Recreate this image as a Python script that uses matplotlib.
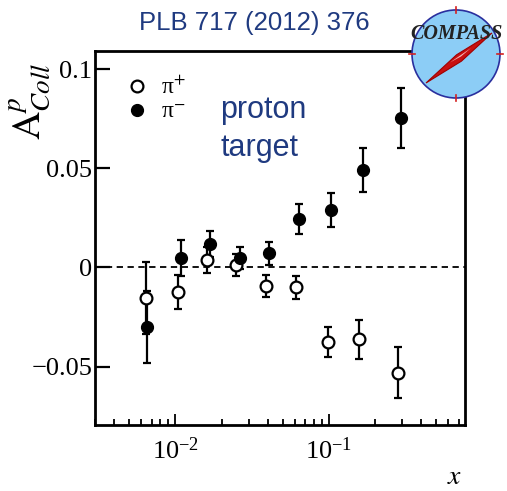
import numpy as np
import matplotlib
matplotlib.use('Agg')
import matplotlib.pyplot as plt
from matplotlib.patches import Circle, Polygon

plt.rcParams['font.family'] = 'Liberation Serif'
plt.rcParams['mathtext.fontset'] = 'stix'

# pi+ (open circles)
x_pip = [0.00644, 0.0104, 0.0160, 0.0248, 0.0390, 0.0611, 0.0982, 0.158, 0.281]
a_pip = [-0.0154, -0.0125, 0.0038, 0.0013, -0.0093, -0.0100, -0.0374, -0.0362, -0.0531]
e_pip = [0.018, 0.0086, 0.0064, 0.0054, 0.0056, 0.0059, 0.0076, 0.0098, 0.0129]

# pi- (filled circles)
x_pim = [0.00657, 0.0109, 0.0169, 0.0265, 0.0410, 0.0643, 0.1033, 0.168, 0.295]
a_pim = [-0.0300, 0.0048, 0.0119, 0.0049, 0.0072, 0.0245, 0.0290, 0.0492, 0.0754]
e_pim = [0.018, 0.0091, 0.0067, 0.0056, 0.0059, 0.0074, 0.0084, 0.0110, 0.0151]

yticks = [-0.05, 0, 0.05, 0.1]
ytick_labels = ['\u22120.05', '0', '0.05', '0.1']

blue = '#1f3a80'

fig = plt.figure(figsize=(5.07, 4.91), dpi=100)
ax = fig.add_axes([0.1874, 0.1344, 0.7298, 0.7623])

ax.axhline(0, color='black', lw=1.3, ls=(0, (3.5, 2.5)), zorder=1)

ax.errorbar(x_pip, a_pip, yerr=e_pip, fmt='none', ecolor='black', elinewidth=1.6,
            capsize=3, capthick=1.6, zorder=2)
ax.errorbar(x_pim, a_pim, yerr=e_pim, fmt='none', ecolor='black', elinewidth=1.6,
            capsize=3, capthick=1.6, zorder=2)
ax.plot(x_pip, a_pip, 'o', ms=8.5, mfc='white', mec='black', mew=1.6, zorder=3,
        label='\u03c0$^{+}$')
ax.plot(x_pim, a_pim, 'o', ms=8.5, mfc='black', mec='black', mew=1.0, zorder=4,
        label='\u03c0$^{-}$')

ax.set_xscale('log')
ax.set_xlim(0.003, 0.77)
ax.set_ylim(-0.0795, 0.1094)
ax.set_yticks(yticks)
ax.set_yticklabels(ytick_labels)

for s in ax.spines.values():
    s.set_linewidth(2)
ax.tick_params(axis='y', which='major', direction='in', length=10.5, width=1.6,
               labelsize=19, pad=2, right=False)
ax.tick_params(axis='x', which='major', direction='in', length=8, width=1.3,
               labelsize=19, pad=9, top=False)
ax.tick_params(axis='x', which='minor', direction='in', length=4, width=1.3, top=False)
ax.tick_params(axis='y', which='minor', left=False, right=False)

leg = ax.legend(loc='upper left', bbox_to_anchor=(0.044, 0.975), frameon=False,
                fontsize=17, handlelength=0.8, handletextpad=0.6, labelspacing=0.1,
                borderpad=0.2)

ax.text(-0.176, 0.865, r'$\mathrm{A}^{p}_{Coll}$', transform=ax.transAxes, rotation=90,
        ha='center', va='center', fontsize=28)
ax.text(0.973, -0.14, '$x$', transform=ax.transAxes, ha='center', va='center', fontsize=20)

ax.text(0.338, 0.82, 'proton', transform=ax.transAxes, fontsize=22, color=blue,
        family='Liberation Sans', va='baseline')
ax.text(0.338, 0.718, 'target', transform=ax.transAxes, fontsize=22, color=blue,
        family='Liberation Sans', va='baseline')

fig.text(0.502, 0.953, 'PLB 717 (2012) 376', ha='center', va='center', fontsize=18.5,
         color=blue, family='Liberation Sans')

# COMPASS logo
lax = fig.add_axes([0.8008, 0.7882, 0.1972, 0.2037], zorder=10)
lax.set_xlim(-1, 1)
lax.set_ylim(-1, 1)
lax.axis('off')
lax.add_patch(Circle((0, 0), 0.88, facecolor='#8ccdf6', edgecolor='#2a2f9e', lw=1.2))
for (x0, y0, x1, y1) in [(0, 0.82, 0, 0.94), (0, -0.82, 0, -0.94), (-0.82, 0, -0.94, 0), (0.82, 0, 0.94, 0)]:
    lax.plot([x0, x1], [y0, y1], color='#d42020', lw=1.2)
lax.add_patch(Polygon([(-0.6, -0.58), (0.012, -0.016), (0.72, 0.42), (0.108, -0.144)],
                      closed=True, facecolor='#c81010', edgecolor='#a00000', lw=0.8))
lax.add_patch(Polygon([(-0.12, -0.17), (0.04, -0.06), (0.3, 0.12), (0.1, -0.05)],
                      closed=True, facecolor='#f2b8b8', edgecolor='none'))
lax.text(0.02, 0.4, 'COMPASS', ha='center', va='center', fontsize=14.5,
         fontweight='bold', fontstyle='italic', color='#222222')

fig.savefig('out.png', dpi=100)
